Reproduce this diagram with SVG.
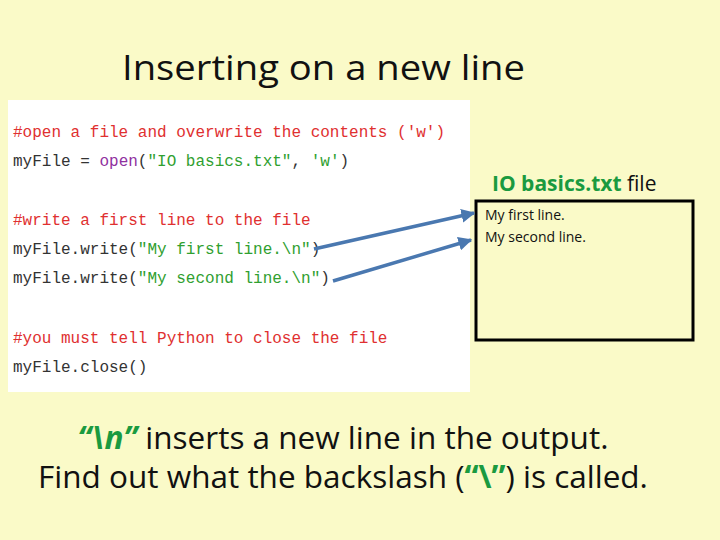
<svg xmlns="http://www.w3.org/2000/svg" width="720" height="540" viewBox="0 0 720 540">
<defs>
<style>
.c{font-family:"Liberation Mono",monospace;font-size:16px}
.r{fill:#e03030}.k{fill:#333}.p{fill:#9030a0}.g{fill:#30a030}
.s{font-family:"Open Sans","Liberation Sans",sans-serif}
</style>
<marker id="a" viewBox="0 0 10 10" refX="9" refY="5" markerWidth="4" markerHeight="4" orient="auto"><path d="M0,0L10,5L0,10z" fill="#4a78b0"/></marker>
</defs>
<rect width="720" height="540" fill="#fafac8"/>
<text class="s" x="122" y="80" font-size="35" fill="#111" textLength="403" lengthAdjust="spacingAndGlyphs">Inserting on a new line</text>
<g id="code">
<rect x="8" y="100" width="462" height="292" fill="#fff"/>
<g class="c">
<text x="13" y="137" class="r">#open a file and overwrite the contents ('w')</text>
<text x="13" y="166"><tspan class="k">myFile = </tspan><tspan class="p">open</tspan><tspan class="k">(</tspan><tspan class="g">"IO basics.txt"</tspan><tspan class="k">, </tspan><tspan class="g">'w'</tspan><tspan class="k">)</tspan></text>
<text x="13" y="225" class="r">#write a first line to the file</text>
<text x="13" y="254"><tspan class="k">myFile.write(</tspan><tspan class="g">"My first line.\n"</tspan><tspan class="k">)</tspan></text>
<text x="13" y="283"><tspan class="k">myFile.write(</tspan><tspan class="g">"My second line.\n"</tspan><tspan class="k">)</tspan></text>
<text x="13" y="343" class="r">#you must tell Python to close the file</text>
<text x="13" y="372" class="k">myFile.close()</text>
</g>
</g>
<g id="file">
<text class="s" x="492" y="191" font-size="21"><tspan fill="#1a9a40" font-weight="bold">IO basics.txt</tspan><tspan fill="#111"> file</tspan></text>
<rect x="476" y="201" width="217" height="139" fill="#fafac8" stroke="#000" stroke-width="3"/>
<text class="s" x="485" y="220" font-size="14" fill="#111">My first line.</text>
<text class="s" x="485" y="242" font-size="14" fill="#111">My second line.</text>
</g>
<g id="connectors" stroke="#4a78b0" stroke-width="3.5" fill="none">
<line x1="314" y1="249" x2="474" y2="213" marker-end="url(#a)"/>
<line x1="333" y1="281" x2="471" y2="240" marker-end="url(#a)"/>
</g>
<g class="s" font-size="31.5" fill="#111" text-anchor="middle">
<text x="343" y="449"><tspan font-weight="bold" font-style="italic" fill="#1a9a40">“\n”</tspan> inserts a new line in the output.</text>
<text x="343" y="488">Find out what the backslash (<tspan font-weight="bold" fill="#1a9a40">“\”</tspan>) is called.</text>
</g>
</svg>
